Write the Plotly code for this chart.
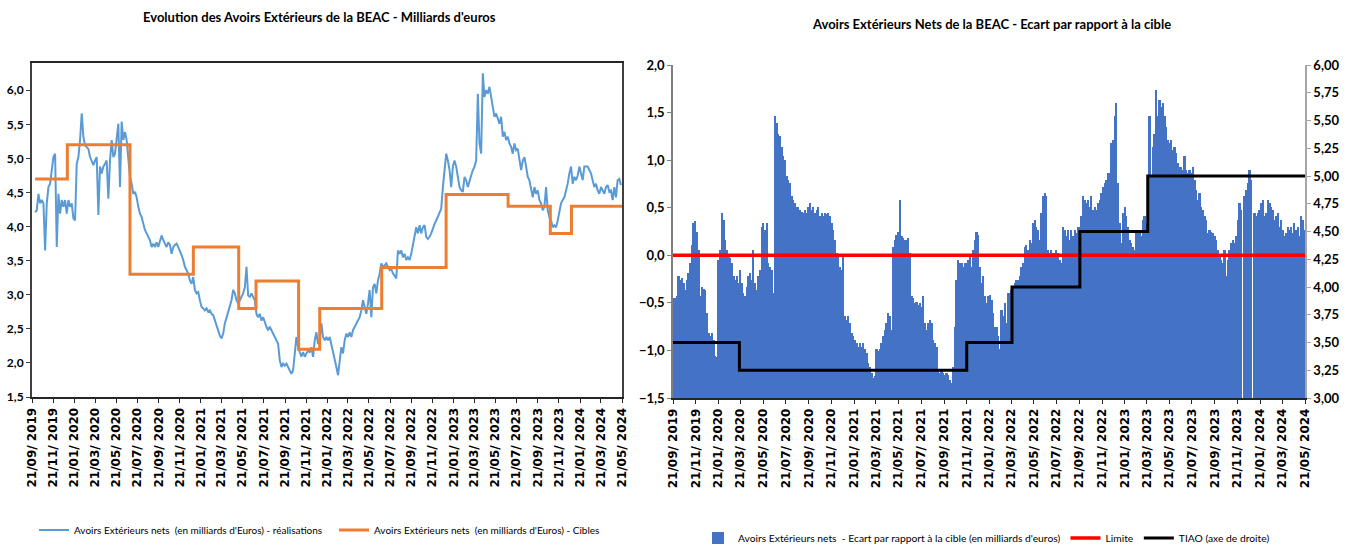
import plotly.graph_objects as go
import pandas as pd

# ---------------- Data ----------------
# Left chart: realised net external assets (billions EUR), evenly sampled from 2019-09-30 to 2024-05-18
realisations = [
    4.21, 4.24, 4.48, 4.34, 4.39, 4.34, 3.65, 4.34, 4.58, 4.63, 4.83, 5.02, 5.07, 3.70, 4.48, 4.19,
    4.39, 4.29, 4.39, 4.19, 4.39, 4.29, 4.34, 4.12, 4.09, 4.92, 5.02, 5.27, 5.66, 5.32, 5.19, 5.17,
    5.14, 5.02, 4.97, 4.90, 4.97, 5.02, 4.17, 4.88, 4.78, 4.88, 4.92, 4.97, 4.41, 4.97, 5.27, 5.02,
    5.07, 5.27, 5.51, 4.58, 5.54, 5.27, 5.39, 5.27, 4.97, 4.73, 4.63, 4.48, 4.51, 4.43, 4.29, 4.19,
    4.14, 4.04, 3.95, 3.90, 3.85, 3.80, 3.70, 3.75, 3.70, 3.77, 3.70, 3.80, 3.87, 3.80, 3.75, 3.70,
    3.77, 3.73, 3.60, 3.70, 3.73, 3.75, 3.70, 3.65, 3.58, 3.51, 3.41, 3.36, 3.31, 3.21, 3.16, 3.26,
    3.07, 3.02, 3.04, 2.92, 2.82, 2.80, 2.77, 2.80, 2.75, 2.77, 2.72, 2.70, 2.62, 2.53, 2.45, 2.40,
    2.36, 2.43, 2.58, 2.67, 2.72, 2.82, 2.92, 3.07, 3.02, 2.92, 2.87, 2.92, 2.97, 3.02, 3.11, 3.41,
    2.99, 2.97, 3.02, 2.97, 2.92, 2.72, 2.67, 2.72, 2.62, 2.67, 2.58, 2.53, 2.48, 2.53, 2.48, 2.43,
    2.38, 2.33, 2.28, 2.04, 1.94, 1.99, 1.96, 1.99, 1.94, 1.89, 1.84, 1.89, 2.14, 2.38, 2.23, 2.14,
    2.09, 2.16, 2.09, 2.14, 2.18, 2.16, 2.23, 2.09, 2.33, 2.45, 2.28, 2.33, 2.58, 2.38, 2.33, 2.38,
    2.33,
    2.38, 2.28, 2.18, 2.04, 1.94, 1.82, 2.04, 2.23, 2.14, 2.33, 2.43, 2.38, 2.45, 2.38, 2.48, 2.53,
    2.58, 2.62, 2.67, 2.77, 2.92, 2.82, 2.72, 2.87, 3.07, 2.67, 3.11, 3.16, 3.02, 3.21, 3.31, 3.46,
    3.41, 3.43, 3.46, 3.41, 3.36, 3.38, 3.31, 3.28, 3.24, 3.65, 3.60, 3.65, 3.55, 3.60, 3.51, 3.55,
    3.51, 3.60, 3.75, 3.85, 3.99, 3.90, 4.02, 3.90, 3.99, 4.02, 3.85, 3.82, 3.85, 3.90, 3.99, 4.04,
    4.09, 4.14, 4.19, 4.26, 4.58, 4.78, 5.07, 4.97, 4.83, 4.58, 4.88, 4.97, 4.88, 4.73, 4.58, 4.53,
    4.51, 4.73, 4.68, 4.58, 4.68, 4.75, 4.83, 4.88, 4.97, 5.95, 5.22, 5.07, 6.25, 5.90, 6.00, 5.95,
    6.05, 5.90, 5.71, 5.61, 5.66, 5.58, 5.51, 5.61, 5.32, 5.39, 5.27, 5.32, 5.22, 5.17, 5.07, 5.22,
    5.12, 5.14, 4.97, 4.83, 4.97, 5.02, 4.88, 4.73, 4.68, 4.53, 4.43, 4.58, 4.48, 4.53, 4.39, 4.34,
    4.24, 4.29, 4.58, 4.24, 4.14, 4.09, 3.99, 4.02, 3.99, 4.09, 4.24, 4.34, 4.39, 4.43, 4.53, 4.63,
    4.78, 4.88, 4.63, 4.73, 4.68, 4.75, 4.88, 4.78, 4.68, 4.88, 4.88, 4.88, 4.83, 4.78, 4.68, 4.58,
    4.63, 4.53, 4.48, 4.58, 4.53, 4.48, 4.58, 4.61, 4.51, 4.53, 4.39, 4.58, 4.43, 4.68, 4.70, 4.61,
]
real_start, real_end = "2019-09-30", "2024-05-18"

# Left chart: targets (step series)
cible_dates = ["2019-09-30", "2020-01-01", "2020-06-30", "2020-12-30", "2021-05-10", "2021-06-29",
               "2021-10-30", "2021-12-30", "2022-06-27", "2022-12-30", "2023-06-27", "2023-10-27",
               "2023-12-27", "2024-05-21"]
cible_values = [4.70, 5.20, 3.30, 3.70, 2.80, 3.20, 2.20, 2.80, 3.40, 4.47, 4.30, 3.90, 4.30, 4.30]

# Right chart: gap to target (billions EUR), evenly sampled from 2019-09-23 to 2024-05-20
ecart = [
    -0.45, -0.45, -0.43, -0.22, -0.26, -0.24, -0.29, -0.36, -0.26, -0.19, -0.08, 0.11, 0.34, 0.36, 0.25, 0.06,
    -0.43, -0.33, -0.35, -0.36, -0.61, -0.82, -0.85, -0.82, -0.89, -1.06, -1.07, -0.05, 0.06, 0.44, 0.37, 0.16,
    0.06, -0.01, -0.03, -0.08, -0.22, -0.26, -0.22, -0.29, -0.15, -0.29, -0.40, -0.43, -0.33, -0.22, -0.19, -0.26,
    0.06, -0.29, -0.36, -0.22, -0.15, 0.30, 0.34, 0.27, 0.34, -0.08, -0.12, -0.15, -0.40, 1.46, 1.39, 1.28,
    1.25, 1.14, 1.04, 1.00, 0.83, 0.79, 0.76, 0.62, 0.58, 0.55, 0.51, 0.51, 0.48, 0.46, 0.44, 0.48,
    0.44, 0.51, 0.55, 0.48, 0.51, 0.44, 0.48, 0.51, 0.41, 0.44, 0.41, 0.44, 0.43, 0.44, 0.41, 0.34,
    0.27, 0.16, 0.02, -0.01, -0.12, -0.15, -0.01, -0.64, -0.68, -0.64, -0.71, -0.82, -0.85, -0.89, -0.92, -0.96,
    -0.92, -0.96, -0.92, -0.99, -1.03, -1.13, -1.17, -1.24, -1.29, -1.27, -0.99, -1.01, -0.99, -0.92, -0.85, -0.78,
    -0.71, -0.61, -0.64, -0.78, 0.09, 0.16, 0.21, 0.25, 0.58, 0.20, 0.18, 0.16, 0.16, 0.18, 0.02, -0.43,
    -0.45, -0.50, -0.49, -0.52, -0.50, -0.54, -0.43, -0.71, -0.78, -0.71, -0.68, -0.71, -0.89, -0.92, -0.96, -1.20,
    -1.24, -1.20, -1.24, -1.26, -1.24, -1.26, -1.31, -1.34, -1.17, -0.75, -0.26, -0.05, -0.08, -0.08, -0.12, -0.08,
    -0.08, -0.05, -0.01, -0.12, 0.06, 0.16, 0.25, 0.21,
    -0.12, -0.29, -0.22, -0.43, -0.50, -0.43, -0.42, -0.47, -0.61, -0.75, -0.75, -0.85, -0.99, -0.57, -0.64, -0.50,
    -0.71, -0.40, -0.40, -0.36, -0.33, -0.29, -0.26, -0.26, -0.22, -0.12, -0.08, 0.09, 0.11, 0.06, 0.16, 0.13,
    0.34, 0.37, 0.30, 0.27, 0.16, 0.44, 0.62, 0.65, 0.62, 0.06, 0.02, 0.06, 0.02, 0.02, 0.06, 0.02,
    -0.05, -0.08, 0.30, 0.27, 0.20, 0.27, 0.16, 0.27, 0.20, 0.27, 0.23, 0.30, 0.30, 0.41, 0.62, 0.58,
    0.55, 0.58, 0.51, 0.62, 0.48, 0.51, 0.48, 0.55, 0.58, 0.65, 0.72, 0.76, 0.79, 0.86, 0.86, 1.18,
    1.21, 1.46, 1.60, 0.76, 0.34, 0.13, 0.44, 0.51, 0.41, 0.30, 0.16, 0.13, 0.09, 0.06, 0.23, 0.23,
    0.27, 0.20, 0.37, 0.41, 0.34, 0.76, 1.46, 0.83, 1.14, 1.28, 1.74, 1.46, 1.63, 1.56, 1.60, 1.46,
    1.35, 1.21, 1.18, 1.21, 1.11, 1.14, 1.07, 0.97, 0.93, 0.93, 0.90, 1.04, 0.90, 0.86, 0.90, 0.86,
    0.93, 0.79, 0.69, 0.58, 0.65, 0.51, 0.48, 0.41, 0.37, 0.23, 0.27, 0.25, 0.23, 0.20, 0.16, 0.06,
    -0.01, -0.05, -0.08, 0.06, -0.22, -0.05, 0.06, 0.13, 0.16, 0.13, 0.20, 0.37, 0.55, 0.48, None, 0.62,
    0.69, 0.76, 0.90, 0.79, None, 0.44, 0.41, 0.44, 0.48, 0.55, 0.58, 0.41, 0.44, 0.58, 0.55, 0.51,
    0.48, 0.37, 0.41, 0.44, 0.30, 0.37, 0.27, 0.20, 0.23, 0.30, 0.27, 0.30, 0.23, 0.34, 0.27, 0.30,
    0.20, 0.41, 0.37, 0.27,
]
ecart_start, ecart_end = "2019-09-23", "2024-05-20"

# Right chart: policy rate TIAO (right axis, %), step series
tiao_dates = ["2019-09-21", "2020-03-18", "2021-11-21", "2022-03-23", "2022-09-22", "2023-03-24", "2024-05-21"]
tiao_values = [3.50, 3.25, 3.50, 4.00, 4.50, 5.00, 5.00]

limite_dates = ["2019-09-21", "2024-05-21"]
limite_values = [0.0, 0.0]

tick_dates = ["2019-09-21", "2019-11-21", "2020-01-21", "2020-03-21", "2020-05-21", "2020-07-21",
              "2020-09-21", "2020-11-21", "2021-01-21", "2021-03-21", "2021-05-21", "2021-07-21",
              "2021-09-21", "2021-11-21", "2022-01-21", "2022-03-21", "2022-05-21", "2022-07-21",
              "2022-09-21", "2022-11-21", "2023-01-21", "2023-03-21", "2023-05-21", "2023-07-21",
              "2023-09-21", "2023-11-21", "2024-01-21", "2024-03-21", "2024-05-21"]
tick_labels = ["21/09/ 2019", "21/11/ 2019", "21/01/ 2020", "21/03/ 2020", "21/05/ 2020", "21/07/ 2020",
               "21/09/ 2020", "21/11/ 2020", "21/01/ 2021", "21/03/ 2021", "21/05/ 2021", "21/07/ 2021",
               "21/09/ 2021", "21/11/ 2021", "21/01/ 2022", "21/03/ 2022", "21/05/ 2022", "21/07/ 2022",
               "21/09/ 2022", "21/11/ 2022", "21/01/ 2023", "21/03/ 2023", "21/05/ 2023", "21/07/ 2023",
               "21/09/ 2023", "21/11/ 2023", "21/01/ 2024", "21/03/ 2024", "21/05/ 2024"]

AXIS_BASE = -1.5

# ---------------- Figure ----------------
W, H = 1354, 547
NARROW = "Lato, sans-serif"
WIDE = "DejaVu Sans, Verdana, sans-serif"

real_dates = pd.date_range(real_start, real_end, periods=len(realisations))
ecart_dates = pd.date_range(ecart_start, ecart_end, periods=len(ecart))

fig = go.Figure()

fig.add_trace(go.Scatter(
    x=real_dates, y=realisations, mode="lines",
    line=dict(color="#5B9BD5", width=2),
    name="Avoirs Extérieurs nets  (en milliards d'Euros) - réalisations",
    xaxis="x", yaxis="y", legend="legend"))
fig.add_trace(go.Scatter(
    x=cible_dates, y=cible_values, mode="lines", line_shape="hv",
    line=dict(color="#ED7D31", width=3),
    name="Avoirs Extérieurs nets  (en milliards d'Euros) - Cibles",
    xaxis="x", yaxis="y", legend="legend"))

fig.add_trace(go.Bar(
    x=ecart_dates, y=[None if v is None else v - AXIS_BASE for v in ecart], base=AXIS_BASE,
    customdata=ecart, hovertemplate="%{x}<br>%{customdata}<extra></extra>",
    marker=dict(color="#4472C4", line=dict(width=0)),
    name="Avoirs Extérieurs nets  - Ecart par rapport à la cible (en milliards d'euros)",
    xaxis="x2", yaxis="y3", legend="legend2"))
fig.add_trace(go.Scatter(
    x=limite_dates, y=limite_values, mode="lines",
    line=dict(color="#FF0000", width=3.5), name="Limite",
    xaxis="x2", yaxis="y3", legend="legend2"))
fig.add_trace(go.Scatter(
    x=tiao_dates, y=tiao_values, mode="lines", line_shape="hv",
    line=dict(color="#000000", width=3), name="TIAO (axe de droite)",
    xaxis="x2", yaxis="y4", legend="legend2"))

def px_x(p):
    return p / W

def px_y(p):
    return 1 - p / H

xcommon = dict(
    type="date", range=["2019-09-21", "2024-05-21"], tickmode="array",
    tickvals=tick_dates, ticktext=tick_labels, tickangle=-90,
    tickfont=dict(family=WIDE, size=12, color="#000000", weight="bold"),
    ticks="outside", ticklen=4, showgrid=False, zeroline=False,
    showline=True, automargin=False,
)

fig.update_layout(
    width=W, height=H, margin=dict(l=0, r=0, t=0, b=0, autoexpand=False),
    paper_bgcolor="white", plot_bgcolor="white",
    separators=", ", bargap=0, showlegend=True,
    xaxis=dict(domain=[px_x(32), px_x(622)], anchor="y", mirror=True,
               linecolor="#262626", linewidth=2, tickcolor="#262626", **xcommon),
    yaxis=dict(domain=[px_y(397), px_y(63)], anchor="x", range=[1.5, 6.4],
               tickmode="linear", tick0=1.5, dtick=0.5, tickformat=".1f",
               tickfont=dict(family=NARROW, size=12, color="#000000", weight="bold"),
               ticks="outside", ticklen=4, tickcolor="#404040",
               showgrid=False, zeroline=False, showline=True, linecolor="#404040",
               linewidth=2, mirror=True, automargin=False),
    xaxis2=dict(domain=[px_x(673), px_x(1305)], anchor="y3",
                linecolor="#262626", linewidth=1.5, tickcolor="#262626", **xcommon),
    yaxis3=dict(domain=[px_y(398), px_y(65)], anchor="x2", range=[-1.5, 2.0],
                tickmode="linear", tick0=-1.5, dtick=0.5, tickformat=".1f",
                tickfont=dict(family=NARROW, size=13, color="#000000", weight="bold"),
                ticks="outside", ticklen=4, tickcolor="#7F7F7F",
                showgrid=False, zeroline=False, showline=True, linecolor="#7F7F7F",
                linewidth=1.5, automargin=False),
    yaxis4=dict(overlaying="y3", side="right", anchor="x2", range=[3.0, 6.0],
                tickmode="linear", tick0=3.0, dtick=0.25, tickformat=".2f",
                tickfont=dict(family=NARROW, size=13, color="#000000", weight="bold"),
                ticks="outside", ticklen=4, tickcolor="#A6A6A6",
                showgrid=False, zeroline=False, showline=True, linecolor="#A6A6A6",
                linewidth=1.5, automargin=False),
    legend=dict(orientation="h", x=px_x(34), y=px_y(530), xanchor="left", yanchor="middle",
                font=dict(family=NARROW, size=10, color="#000000"), entrywidth=255,
                bgcolor="rgba(0,0,0,0)", itemwidth=30),
    legend2=dict(orientation="h", x=px_x(698), y=px_y(538), xanchor="left", yanchor="middle",
                 font=dict(family=NARROW, size=10.3, color="#000000"),
                 bgcolor="rgba(0,0,0,0)", itemwidth=30),
    annotations=[
        dict(text="Evolution des Avoirs Extérieurs de la BEAC - Milliards d'euros",
             x=px_x(319), y=px_y(17), xref="paper", yref="paper", showarrow=False,
             xanchor="center", yanchor="middle",
             font=dict(family=NARROW, size=13, color="#000000", weight="bold")),
        dict(text="Avoirs Extérieurs Nets de la BEAC - Ecart par rapport à la cible",
             x=px_x(992), y=px_y(24), xref="paper", yref="paper", showarrow=False,
             xanchor="center", yanchor="middle",
             font=dict(family=NARROW, size=13, color="#000000", weight="bold")),
    ],
)

fig.write_html(
    "out.html",
    config={"displayModeBar": False},
    post_script="document.body.style.margin='0';document.body.style.padding='0';"
                "document.body.style.overflow='hidden';",
)
